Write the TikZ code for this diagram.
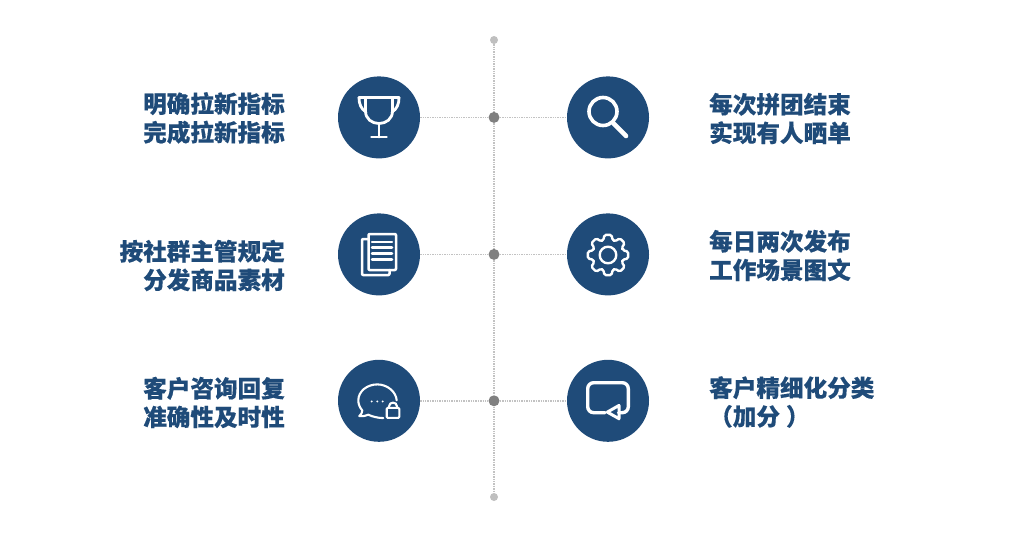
\documentclass[tikz,border=0pt]{standalone}
\usepackage{fontspec}
\newfontfamily\cjk[BoldFeatures={FakeBold=0.3}]{Noto Sans CJK SC}
\definecolor{navy}{HTML}{1F4B79}
\tikzset{
  badge/.style={circle,fill=navy,minimum size=82pt,inner sep=0pt},
  hub/.style={circle,fill=black!50,minimum size=11pt,inner sep=0pt},
  tip/.style={circle,fill=black!25,minimum size=8pt,inner sep=0pt},
  rope/.style={draw=black!24,densely dotted,line width=1.4pt},
  lbl/.style={text=navy,inner sep=0pt,font=\cjk\bfseries\fontsize{23.6}{28.6}\selectfont},
  lblL/.style={lbl,anchor=east,align=right},
  lblR/.style={lbl,anchor=west,align=left},
  ico/.style={draw=white,line width=2.8pt,line join=round,line cap=round},
  icoat/.style={shift={(#1.center)},yshift=-.6pt}
}
\begin{document}
\begin{tikzpicture}[x=1pt,y=-1pt]
  \useasboundingbox (0,0) rectangle (1012,549);

  \node[tip] (top) at (494,40) {};
  \node[tip] (bottom) at (494,497) {};
  \foreach \i/\y in {1/117.4,2/254.4,3/400.8} {
    \node[hub] (hub\i) at (494,\y) {};
    \node[badge] (left\i) at (379,\y) {};
    \node[badge] (right\i) at (608,\y) {};
    \draw[rope] (left\i) -- (hub\i);
    \draw[rope] (hub\i) -- (right\i);
  }
  \draw[rope] (top) -- (hub1) -- (hub2) -- (hub3) -- (bottom);

  \node[lblL] (txtL1) at (285,118) {明确拉新指标\\完成拉新指标};
  \node[lblL] (txtL2) at (285,265.5) {按社群主管规定\\分发商品素材};
  \node[lblL] (txtL3) at (285,402.5) {客户咨询回复\\准确性及时性};
  \node[lblR] (txtR1) at (709,118.5) {每次拼团结束\\实现有人晒单};
  \node[lblR] (txtR2) at (709,255.5) {每日两次发布\\工作场景图文};
  \node[lblR] (txtR3) at (709,402) {客户精细化分类\\（加分\hspace{6pt}）};

  % trophy
  \begin{scope}[icoat=left1]
    \draw[ico] (-20,-20.5) -- (20,-20.5);
    \draw[ico] (-13.5,-20.5) -- (-13.5,-7) .. controls (-13.5,1) and (-7,5.5) .. (0,5.5)
      .. controls (7,5.5) and (13.5,1) .. (13.5,-7) -- (13.5,-20.5);
    \draw[ico] (-20,-20.5) .. controls (-20,-14) and (-18,-9) .. (-13,-6);
    \draw[ico] (20,-20.5) .. controls (20,-14) and (18,-9) .. (13,-6);
    \draw[ico] (0,5.5) -- (0,19);
    \draw[ico] (-7.5,19) -- (7.5,19);
  \end{scope}

  % magnifier
  \begin{scope}[icoat=right1]
    \draw[ico,line width=3.6pt] (-5,-6.5) circle (14pt);
    \draw[ico,line width=4.6pt] (5.5,5.5) -- (18,18);
  \end{scope}

  % papers
  \begin{scope}[icoat=left2]
    \draw[ico,line width=2.5pt,rounded corners=1pt] (-10.5,-16) -- (-17,-16) -- (-17,20) -- (10.5,20) -- (10.5,15);
    \draw[ico,line width=2.5pt,rounded corners=1pt] (-10.5,-21) rectangle (17,15);
    \foreach \y in {-13,-7.3,-1.7,4.3}
      \draw[ico,line width=2.5pt] (-7,\y) -- (13,\y);
  \end{scope}

  % gear
  \begin{scope}[icoat=right2]
    \draw[ico,line width=2.4pt] (0,0) circle (8.3pt);
    \draw[ico,line width=2.4pt,rounded corners=1.6pt] (-17:15.5)
      \foreach \a in {0,45,...,315} {
        -- (\a-17:15.5) -- (\a-10:20.5) -- (\a+10:20.5) -- (\a+17:15.5)
      } -- cycle;
  \end{scope}

  % chat bubble with lock
  \begin{scope}[icoat=left3]
    \draw[ico,line width=2.1pt] (17.7,-1) .. controls (17,-10) and (8,-17) .. (-1.7,-17)
      .. controls (-12,-17) and (-20.7,-10) .. (-20.7,-1)
      .. controls (-20.7,3) and (-19,6.5) .. (-16.7,9)
      .. controls (-16.7,11) and (-18,13.5) .. (-19.7,14.7)
      .. controls (-16,15) and (-13,14.5) .. (-10.7,13.3)
      .. controls (-6,15.5) and (-1,16.5) .. (4.3,16.7);
    \foreach \x in {-7.3,-1.7,3.7}
      \fill[white] (\x,0) circle (1.1pt);
    \draw[ico,line width=2.1pt,rounded corners=1pt] (7.7,6.5) rectangle (20.3,16.5);
    \draw[ico,line width=2.1pt] (10,6.5) -- (10,5) .. controls (10,0) and (18,0) .. (18,5) -- (18,6.5);
  \end{scope}

  % reply box
  \begin{scope}[icoat=right3]
    \draw[ico,line width=3.4pt,rounded corners=6pt] (-3,11.3) -- (-20.3,11.3) -- (-20.3,-18.7) -- (20.3,-18.7) -- (20.3,11.3) -- (10.5,11.3);
    \draw[ico,line width=3pt] (-0.7,10.7) -- (11,4) -- (11,17.3) -- cycle;
  \end{scope}
\end{tikzpicture}
\end{document}
